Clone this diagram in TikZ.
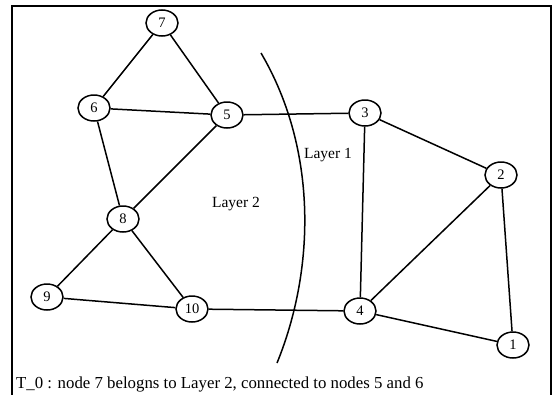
\documentclass[tikz,border=0pt]{standalone}
\usepackage{fontspec}
\setmainfont{Liberation Serif}
\usetikzlibrary{shapes.geometric}
\begin{document}
\begin{tikzpicture}[x=1pt,y=-1pt,
  vert/.style={draw,line width=1.5pt,ellipse,minimum width=32pt,minimum height=26pt,inner sep=0pt,font=\fontsize{14.5}{14.5}\selectfont},
  edge/.style={line width=1.5pt},
  lbl/.style={font=\fontsize{15.5}{15.5}\selectfont}]
\useasboundingbox (0,0) rectangle (553,394);
\begin{scope}
\clip (0,0) rectangle (553,394);
\draw[line width=1.8pt] (12,6) rectangle (551,410);
\end{scope}
\node[vert] (n7) at (162,23) {7};
\node[vert] (n6) at (94,108) {6};
\node[vert] (n5) at (227,115) {5};
\node[vert] (n3) at (365,113) {3};
\node[vert] (n2) at (501,175) {2};
\node[vert] (n8) at (123,219) {8};
\node[vert] (n9) at (47,297) {9};
\node[vert] (n10) at (192,309) {10};
\node[vert] (n4) at (360,311) {4};
\node[vert] (n1) at (513,345) {1};
\draw[edge] (n7)--(n6) (n7)--(n5) (n6)--(n5) (n6)--(n8) (n5)--(n8)
  (n5)--(n3) (n3)--(n2) (n3)--(n4) (n2)--(n4) (n2)--(n1) (n4)--(n1)
  (n4)--(n10) (n10)--(n8) (n8)--(n9) (n9)--(n10);
\coordinate (a0) at (261,53);
\coordinate (a1) at (277,363);
\draw[edge] (a0) .. controls (318,150) and (315,270) .. (a1);
\node[lbl] (l1) at (328,155) {Layer 1};
\node[lbl] (l2) at (236,204) {Layer 2};
\node[font=\fontsize{16.8}{16.8}\selectfont,anchor=west,inner sep=0pt] (cap) at (16,384) {T\_0 : node 7 belogns to Layer 2, connected to nodes 5 and 6};
\end{tikzpicture}
\end{document}
